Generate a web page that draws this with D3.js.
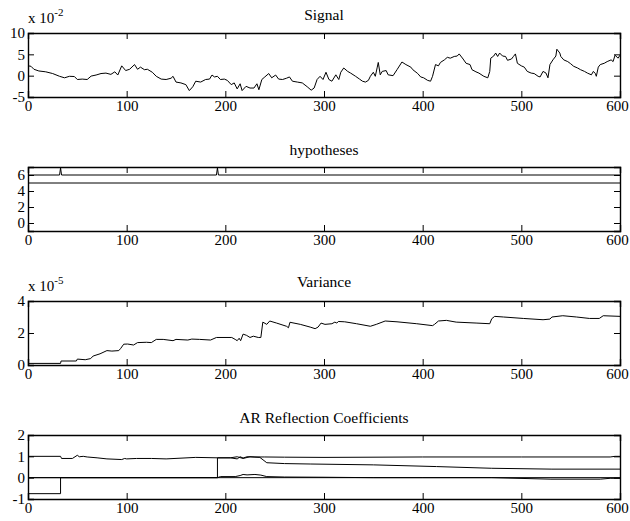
<html>

<head>
    <meta charset="utf-8">
    <script src="https://cdn.jsdelivr.net/npm/d3@7/dist/d3.min.js"></script>
    <style>
        body { margin: 0; background: #fff; }
        svg text { font-family: "Liberation Serif", "Times New Roman", serif; fill: #000; }
        .axis path, .axis line { stroke: #000; }
        .axis path { stroke-width: 1.4; }
        .line { fill: none; stroke: #000; stroke-width: 1; }
    </style>
</head>

<body>
    <script>
        // x ticks shared by all panels
        var xTicks = [0, 100, 200, 300, 400, 500, 600];

        // Signal (x 10^-2)
        var signalX = [0, 3, 6, 11, 18, 25, 32, 37, 42, 47, 50, 55, 60, 64, 69, 74, 79, 84, 88, 91, 95, 99, 103, 108, 111, 114, 118, 121, 126, 130, 135, 140, 145, 147,
            150, 155, 160, 163.5, 167, 170, 175, 180, 184, 186.5, 189, 192, 195, 199, 202, 206, 209, 212, 215, 217, 221, 225, 229, 232, 234, 237, 240, 244, 247, 251, 254, 258, 262, 265, 268, 273, 278, 283, 287, 290, 293, 296, 299,
            302, 305, 308, 312, 315, 317, 320, 324, 327, 332, 336, 339, 342, 345, 347, 350, 352, 354, 355, 357, 359, 363, 365, 370, 374, 379, 383, 388, 390, 395, 398, 401, 405, 408, 410, 413, 416, 418, 422, 425, 428, 432, 435, 437, 441, 444, 448, 450,
            454, 457, 462, 466, 468, 469, 472, 474, 476, 478, 481, 484, 486, 490, 492, 494, 496, 500, 503, 506, 510, 513, 517, 519, 522, 525, 527, 529, 532, 535, 536, 539, 540, 543, 547, 550, 553, 557, 560, 564, 567, 571, 573, 575, 576, 578, 580, 584, 587, 591, 593, 595, 598, 600];
        var signalY = [2.3, 2.2, 1.5, 1.1, 0.9, 0.5, -0.15, -0.5, -0.15, -0.2, -0.9, -0.8, -0.9, -0.1, 0.15, 0.5, 0.6, 0.3, 0.9, 0.15, 2.3, 1.2, 1.5, 2.6, 1.5, 2.0, 1.4, 1.5, 0.8, -0.15, -0.8, -0.9, -0.6, -0.15,
            -1.5, -1.7, -2.1, -3.5, -2.6, -1.3, -1.5, -0.9, -0.8, 0.15, -0.3, -0.15, -0.9, -0.8, -1.1, -2.1, -1.7, -3.1, -1.9, -3.5, -2.5, -2.9, -2.9, -1.9, -3.3, -0.9, -0.3, 0.5, -0.5, 0.15, -0.8, -0.9, -0.6, -0.3, -1.3, -1.5, -1.7, -2.6, -3.4, -2.9, -0.9, -0.15, -0.9,
            0.8, -0.9, -1.3, 0.2, -0.9, 0.8, 1.8, 1.0, 0.6, -0.15, -0.8, -1.3, -1.5, -1.1, -0.15, 0.8, -0.15, 2.0, 3.1, 0.2, 1.0, 1.2, 0.2, 0, 1.4, 3.2, 2.6, 2.0, 1.4, 0.5, -0.3, -0.5, -1.1, -1.3, -0.15, 2.6, 2.3, 3.1, 3.7, 4.3, 4.1, 4.5, 4.6, 5.1, 3.9, 2.9, 2.6, 1.4,
            0.9, 0.6, -0.15, -0.5, 1.0, 4.1, 4.6, 5.3, 4.5, 5.3, 4.6, 4.5, 3.6, 3.9, 4.5, 5.1, 2.9, 2.3, 2.0, 1.0, 0.6, 0.5, -0.15, -0.3, 1.0, 0.6, -0.5, 2.6, 3.7, 4.6, 6.2, 5.3, 4.5, 3.7, 3.3, 2.8, 2.2, 1.8, 1.4, 1.0, 0.6, 0.2, 1.0, 0.5, -0.15, 2.0, 2.6, 2.9, 3.3, 3.7, 3.3, 4.8, 4.1, 4.8];
        var signalTicks = [-5, 0, 5, 10];

        // hypotheses
        var hypX = [0, 32, 33, 34, 191, 192, 193, 600];
        var hypA = [6, 6, 6.9, 6, 6, 6.9, 6, 6];
        var hypBX = [0, 600];
        var hypB = [5, 5];
        var hypTicks = [0, 2, 4, 6];

        // Variance (x 10^-5)
        var varX = [0, 33, 33.5, 49, 50, 58, 63.5, 66, 73, 80, 85, 92, 94, 97, 101, 107, 111, 120, 125, 130, 137, 147, 150, 162, 166, 174, 185, 191, 206.5, 210, 212, 214, 215.5, 218, 221.6, 225, 228.4, 233.4, 236,
            238, 242, 245, 252, 262, 264, 265.5, 276, 286, 291, 294, 297, 301, 308, 311, 313, 314.5, 321, 333, 347, 353, 362, 374, 394, 410, 412, 416, 424, 434, 455, 468, 470, 473, 482, 502, 522, 529, 531, 542, 556, 569, 579, 583, 600];
        var varY = [0.1, 0.1, 0.25, 0.25, 0.37, 0.33, 0.4, 0.56, 0.7, 0.9, 0.87, 0.9, 1.04, 1.3, 1.31, 1.25, 1.4, 1.42, 1.4, 1.6, 1.6, 1.52, 1.6, 1.56, 1.62, 1.6, 1.56, 1.72, 1.72, 1.6, 1.52, 1.67, 1.52, 1.93, 1.85, 1.72, 1.8, 1.72, 1.72,
            2.68, 2.54, 2.75, 2.62, 2.42, 2.33, 2.67, 2.54, 2.37, 2.27, 2.37, 2.62, 2.54, 2.58, 2.68, 2.62, 2.72, 2.7, 2.58, 2.42, 2.54, 2.75, 2.7, 2.58, 2.46, 2.54, 2.75, 2.79, 2.68, 2.62, 2.58, 2.89, 3.04, 3.0, 2.91, 2.83, 2.87, 3.0, 3.08, 3.0, 2.91, 2.91, 3.08, 3.04];
        var varTicks = [0, 2, 4];

        // AR Reflection Coefficients
        var arAX = [0, 33, 34, 45, 50, 52, 56, 60, 70, 80, 95, 98, 100, 110, 125, 140, 170, 192, 205, 212, 215, 218, 222, 230, 240, 260, 300, 400, 500, 590, 595, 600];
        var arA = [1.0, 1.0, 0.9, 0.9, 1.05, 0.98, 1.0, 0.97, 0.93, 0.88, 0.85, 0.9, 0.88, 0.9, 0.9, 0.88, 0.95, 0.93, 0.93, 0.88, 0.98, 0.92, 0.98, 0.97, 0.97, 0.96, 0.95, 0.97, 0.97, 0.97, 1.0, 1.0];
        var arBX = [0, 33, 33, 192, 192, 205, 212, 218, 225, 235, 242, 260, 286, 350, 414, 470, 531, 600];
        var arB = [-0.75, -0.75, 0, 0, 0.93, 0.93, 0.98, 0.9, 0.98, 0.95, 0.7, 0.66, 0.64, 0.6, 0.52, 0.44, 0.4, 0.4];
        var arCX = [0, 192, 195, 210, 215, 218, 222, 230, 236, 242, 260, 300, 350, 400, 470, 530, 580, 590, 600];
        var arC = [0, 0, 0.05, 0.05, 0.1, 0.15, 0.13, 0.15, 0.12, 0.05, 0.03, 0.02, 0, 0, 0, -0.07, -0.07, -0.03, -0.03];
        var arDX = [0, 600];
        var arD = [0, 0];
        var arTicks = [-1, 0, 1, 2];

        var w = 630, h = 521;
        var left = 28, right = 620;

        var svg = d3.select('body')
            .append('svg')
            .attr('width', w)
            .attr('height', h);

        svg.append('rect').attr('width', w).attr('height', h).attr('fill', '#fff');

        var x = d3.scaleLinear().domain([0, 600]).range([left, right]);

        // plain hyphen for negatives, like the original
        var fmt = d => String(d);

        function zip(xs, ys) {
            return xs.map((d, i) => [d, ys[i]]);
        }

        function panel(top, bottom, yDomain, yTicks, title, titleY, series, expo) {
            var y = d3.scaleLinear().domain(yDomain).range([bottom, top]);
            var g = svg.append('g');

            var line = d3.line().x(d => x(d[0])).y(d => y(d[1]));
            series.forEach(s => {
                g.append('path').attr('class', 'line').attr('d', line(s));
            });

            var xb = g.append('g').attr('class', 'axis')
                .attr('transform', 'translate(0,' + bottom + ')')
                .call(d3.axisBottom(x).tickValues(xTicks).tickSize(-6).tickPadding(3).tickFormat(fmt))
                .attr('font-size', 15);
            xb.selectAll('text').filter(d => d == 600).attr('dx', -3);

            g.append('g').attr('class', 'axis')
                .attr('transform', 'translate(0,' + top + ')')
                .call(d3.axisTop(x).tickValues(xTicks).tickSize(-6).tickFormat(''));
            g.append('g').attr('class', 'axis')
                .attr('transform', 'translate(' + left + ',0)')
                .call(d3.axisLeft(y).tickValues(yTicks).tickSize(-6).tickPadding(3).tickFormat(fmt))
                .attr('font-size', 15);
            g.append('g').attr('class', 'axis')
                .attr('transform', 'translate(' + right + ',0)')
                .call(d3.axisRight(y).tickValues(yTicks).tickSize(-6).tickFormat(''));

            g.selectAll('.axis').attr('font-family', null);

            g.append('text')
                .attr('x', (left + right) / 2)
                .attr('y', titleY)
                .attr('text-anchor', 'middle')
                .attr('font-size', 15.5)
                .text(title);

            if (expo) {
                var t = g.append('text')
                    .attr('x', left)
                    .attr('y', top - 10)
                    .attr('font-size', 15);
                t.append('tspan').text('x 10');
                t.append('tspan').attr('dy', -7).attr('font-size', 11).text(expo);
            }
        }

        panel(33, 97, [-5, 10], signalTicks, 'Signal', 20,
            [zip(signalX, signalY)], '-2');

        panel(167, 231, [-1, 7], hypTicks, 'hypotheses', 155,
            [zip(hypX, hypA), zip(hypBX, hypB)], null);

        panel(301, 365, [0, 4], varTicks, 'Variance', 287,
            [zip(varX, varY)], '-5');

        panel(435, 499, [-1, 2], arTicks, 'AR Reflection Coefficients', 423,
            [zip(arAX, arA), zip(arBX, arB), zip(arCX, arC), zip(arDX, arD)], null);

    </script>
</body>

</html>
